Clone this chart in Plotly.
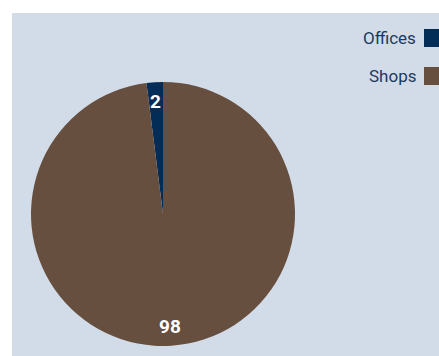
import math
import plotly.graph_objects as go

# Share of floor space by use (%)
labels = ["Offices", "Shops"]
values = [2, 98]
colors = ["#032c57", "#664f3f"]

W, H = 439, 356
PANEL = "#d2dce8"
TEXT = "#1b3a5e"
FONT = "Roboto"

# Pie geometry in pixels
cx_px, cy_px, r_px = 163, 214, 132
dom_x = [(cx_px - r_px) / W, (cx_px + r_px) / W]
dom_y = [(H - cy_px - r_px) / H, (H - cy_px + r_px) / H]

total = sum(values)
# first slice ends at 12 o'clock, the rest run clockwise from there
start_deg = -values[0] / total * 360

fig = go.Figure(
    go.Pie(
        labels=labels,
        values=values,
        marker=dict(colors=colors, line=dict(width=0)),
        sort=False,
        direction="clockwise",
        rotation=start_deg,
        textinfo="none",
        hoverinfo="label+value",
        showlegend=False,
        domain=dict(x=dom_x, y=dom_y),
    )
)

annotations = []
shapes = [
    # light panel behind the chart
    dict(type="rect", xref="paper", yref="paper", x0=12 / W, x1=1.0,
         y0=0, y1=(H - 13) / H, fillcolor=PANEL, line=dict(width=0), layer="below"),
]

# value labels placed along each slice's mid-angle (clockwise from 12 o'clock)
ang = start_deg
for v in values:
    mid = math.radians(ang + v / total * 180)
    ang += v / total * 360
    rr = 0.855 * r_px
    px = cx_px + rr * math.sin(mid)
    py = cy_px - rr * math.cos(mid)
    annotations.append(dict(
        x=px / W, y=(H - py) / H, xref="paper", yref="paper",
        text=f"<b>{v}</b>", showarrow=False,
        font=dict(family=FONT, size=19, color="white"),
        xanchor="center", yanchor="middle",
    ))

# legend: label on the left, swatch on the right
for i, (lab, col) in enumerate(zip(labels, colors)):
    yc = 38 + i * 38
    annotations.append(dict(
        x=418 / W, y=(H - yc) / H, xref="paper", yref="paper",
        text=lab, showarrow=False,
        font=dict(family=FONT, size=17, color=TEXT),
        xanchor="right", yanchor="middle",
    ))
    shapes.append(dict(
        type="rect", xref="paper", yref="paper",
        x0=424 / W, x1=1.02, y0=(H - yc - 9) / H, y1=(H - yc + 9) / H,
        fillcolor=col, line=dict(width=0),
    ))

fig.update_layout(
    width=W, height=H,
    margin=dict(l=0, r=0, t=0, b=0),
    paper_bgcolor="white",
    plot_bgcolor="white",
    annotations=annotations,
    shapes=shapes,
)

fig.write_html("out.html")
